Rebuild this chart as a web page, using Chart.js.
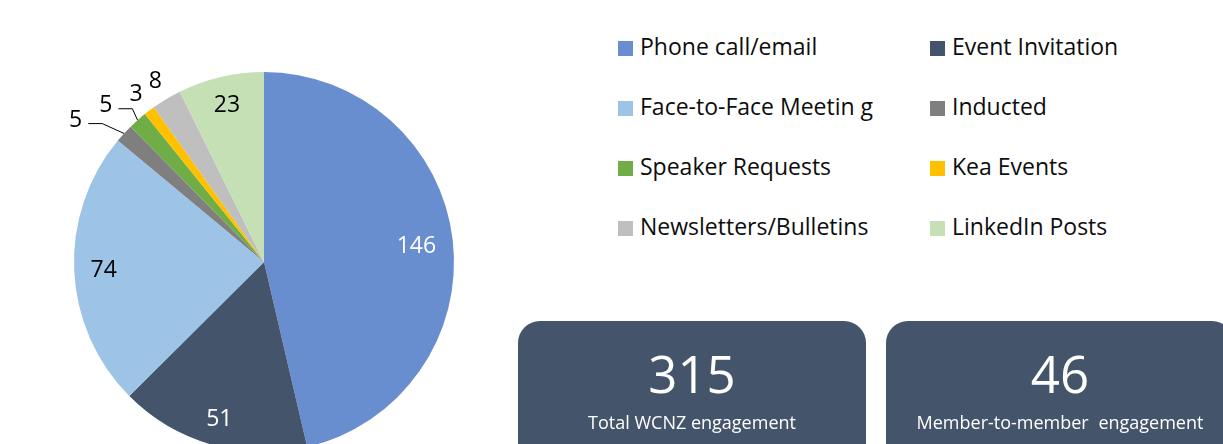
<!DOCTYPE html>
<html>
<head>
<meta charset="utf-8">
<script src="https://cdn.jsdelivr.net/npm/chart.js@4.4.1/dist/chart.umd.min.js"></script>
<style>
  html, body { margin: 0; padding: 0; width: 1223px; height: 444px; overflow: hidden; background: #fff; font-family: "Open Sans", sans-serif; }
  #pieWrap { position: absolute; left: 0; top: 0; width: 528px; height: 524px; }
  .legItem { position: absolute; height: 30px; white-space: nowrap; }
  .legBox { position: absolute; left: 0; top: 6px; width: 15px; height: 15px; }
  .legText { position: absolute; left: 22px; top: 0; font-size: 23px; line-height: 23px; color: #0d0d0d; }
  .card { position: absolute; top: 321px; width: 348px; height: 150px; border-radius: 22px; background: #44546A; color: #fff; text-align: center; }
  .card .num { position: absolute; left: 0; right: 0; top: 27px; font-size: 51px; line-height: 51px; }
  .card .cap { position: absolute; left: 0; right: 0; top: 92px; font-size: 18px; line-height: 18px; white-space: nowrap; }
</style>
</head>
<body>
<div id="pieWrap"><canvas id="pie" width="528" height="524"></canvas></div>
<div id="legend"></div>
<div class="card" style="left:518px"><div class="num" id="n1"></div><div class="cap" id="c1"></div></div>
<div class="card" style="left:886px"><div class="num" id="n2"></div><div class="cap" id="c2" style="word-spacing:5px"></div></div>
<script>
// ---- data ----
const categories = ["Phone call/email", "Event Invitation", "Face-to-Face Meetin g", "Inducted", "Speaker Requests", "Kea Events", "Newsletters/Bulletins", "LinkedIn Posts"];
const engagementCounts = [146, 51, 74, 5, 5, 3, 8, 23];
const sliceColors = ["#698ED0", "#44546A", "#9DC3E6", "#7F7F7F", "#70AD47", "#FFC000", "#BFBFBF", "#C5E0B4"];
const labelColors = ["#ffffff", "#ffffff", "#000000", "#000000", "#000000", "#000000", "#000000", "#000000"];
const cardValues = ["315", "46"];
const cardCaptions = ["Total WCNZ engagement", "Member-to-member engagement"];

// ---- cards ----
document.getElementById('n1').textContent = cardValues[0];
document.getElementById('c1').textContent = cardCaptions[0];
document.getElementById('n2').textContent = cardValues[1];
document.getElementById('c2').textContent = cardCaptions[1];

// ---- legend (row-major, 2 columns) ----
const legend = document.getElementById('legend');
const colX = [618, 930];
categories.forEach((name, i) => {
  const row = Math.floor(i / 2), col = i % 2;
  const item = document.createElement('div');
  item.className = 'legItem';
  item.style.left = colX[col] + 'px';
  item.style.top = (35 + row * 60) + 'px';
  const box = document.createElement('div');
  box.className = 'legBox';
  box.style.background = sliceColors[i];
  const txt = document.createElement('div');
  txt.className = 'legText';
  txt.textContent = name;
  item.appendChild(box); item.appendChild(txt);
  legend.appendChild(item);
});

// ---- value labels plugin ----
const FONT_PX = 23;
const pieLabels = {
  id: 'pieLabels',
  afterDatasetsDraw(chart) {
    const ctx = chart.ctx;
    const meta = chart.getDatasetMeta(0);
    const data = chart.data.datasets[0].data;
    const total = data.reduce((a, b) => a + b, 0);
    ctx.save();
    ctx.font = FONT_PX + 'px "Open Sans"';
    ctx.textAlign = 'center';
    ctx.textBaseline = 'alphabetic';
    const capHalf = 0.357 * FONT_PX;
    const hh = 8.5;
    const outside = [];
    meta.data.forEach((arc, i) => {
      const p = arc.getProps(['x', 'y', 'startAngle', 'endAngle', 'outerRadius'], true);
      const mid = (p.startAngle + p.endAngle) / 2;
      const dx = Math.cos(mid), dy = Math.sin(mid);
      const txt = String(data[i]);
      const w = ctx.measureText(txt).width;
      if (data[i] / total >= 0.05) {
        const half = Math.abs(dx) * w / 2 + Math.abs(dy) * hh;
        const d = p.outerRadius - 16 - half;
        ctx.fillStyle = labelColors[i];
        ctx.fillText(txt, p.x + dx * d, p.y + dy * d + capHalf);
      } else {
        outside.push({ i, p, mid, dx, dy, txt, w });
      }
    });
    // small slices: labels outside, kept apart going counter-clockwise (leftwards)
    const gap = 4, leaderRun = 13;
    let prev = null;
    for (let k = outside.length - 1; k >= 0; k--) {
      const o = outside[k];
      const d = o.p.outerRadius + 22;
      let cx = o.p.x + o.dx * d, cy = o.p.y + o.dy * d;
      let shifted = false;
      if (prev) {
        const maxX = prev.cx - (prev.w / 2 + o.w / 2 + gap);
        if (cx > maxX) { cx = maxX - leaderRun; shifted = true; }
      }
      o.cx = cx; o.cy = cy; o.shifted = shifted;
      prev = o;
    }
    outside.forEach(o => {
      ctx.fillStyle = labelColors[o.i];
      ctx.fillText(o.txt, o.cx, o.cy + capHalf);
      if (o.shifted) {
        const ex = o.p.x + o.dx * o.p.outerRadius;
        const ey = o.p.y + o.dy * o.p.outerRadius;
        const sx = o.cx + o.w / 2 + 6, sy = o.cy + 5;
        ctx.beginPath();
        ctx.strokeStyle = '#000';
        ctx.lineWidth = 1;
        ctx.moveTo(sx, sy);
        ctx.lineTo(sx + 14, sy);
        ctx.lineTo(ex, ey);
        ctx.stroke();
      }
    });
    ctx.restore();
  }
};

function build() {
  new Chart(document.getElementById('pie'), {
    type: 'pie',
    data: {
      labels: categories,
      datasets: [{
        data: engagementCounts,
        backgroundColor: sliceColors,
        borderWidth: 0,
        hoverOffset: 0
      }]
    },
    options: {
      responsive: false,
      animation: false,
      rotation: 0,
      layout: { padding: 72 },
      plugins: { legend: { display: false }, tooltip: { enabled: false } },
      events: []
    },
    plugins: [pieLabels]
  });
}
if (document.fonts && document.fonts.load) {
  document.fonts.load(FONT_PX + 'px "Open Sans"').then(build, build);
} else { build(); }
</script>
</body>
</html>
